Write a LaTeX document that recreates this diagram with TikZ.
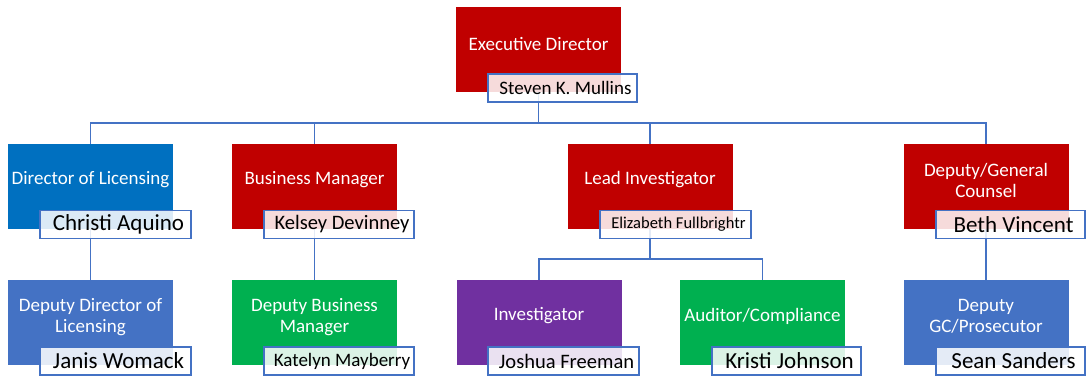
\documentclass[tikz,border=0pt]{standalone}
\usepackage{fontspec}
\setmainfont{Carlito}
\usetikzlibrary{backgrounds}
\definecolor{cred}{HTML}{C00000}
\definecolor{cblue}{HTML}{0070C0}
\definecolor{cblueb}{HTML}{4472C4}
\definecolor{cgreen}{HTML}{00B050}
\definecolor{cpurple}{HTML}{7030A0}
\definecolor{clink}{HTML}{4472C4}
\begin{document}
\begin{tikzpicture}[x=0.75pt,y=-0.75pt,
  role/.style={fill=#1, draw=none, minimum width=123.75pt, minimum height=63.75pt, inner sep=0pt, outer sep=0pt},
  rtext/.style={text=white, font=\fontsize{14.25}{15.75}\selectfont, align=center, inner sep=0pt},
  namebox/.style={draw=cblueb, line width=1pt, fill=white, fill opacity=0.86, text opacity=1, text=black, minimum height=21pt, inner sep=0pt, outer sep=0pt},
  nbig/.style={font=\fontsize{17.25}{18}\selectfont},
  nmid/.style={font=\fontsize{15.4}{17}\selectfont},
  nsmall/.style={font=\fontsize{14.25}{16}\selectfont},
  ntiny/.style={font=\fontsize{12.4}{14}\selectfont},
  link/.style={draw=clink, line width=1pt}]
\useasboundingbox (0,0) rectangle (1086,376);

% level 1
\node[role=cred] (exec) at (538.5,49.5) {};
\node[rtext] (execT) at ([yshift=4.5pt]exec.center) {Executive Director};
\node[namebox, nsmall, minimum width=111.75pt] (execN) at (562.5,88) {\hspace*{4.5pt}Steven K. Mullins};

% level 2
\node[role=cblue] (dl) at (90.5,186.5) {};
\node[rtext] (dlT) at ([yshift=5pt]dl.center) {Director of Licensing};
\node[namebox, nbig, minimum width=113.25pt] (dlN) at (115.5,224.5) {\hspace*{4.5pt}Christi Aquino};

\node[role=cred] (bm) at (314.5,186.5) {};
\node[rtext] (bmT) at ([yshift=5pt]bm.center) {Business Manager};
\node[namebox, nmid, minimum width=112.5pt] (bmN) at (339,224.5) {\hspace*{4.5pt}Kelsey Devinney};

\node[role=cred] (li) at (650,186.5) {};
\node[rtext] (liT) at ([yshift=5pt]li.center) {Lead Investigator};
\node[namebox, ntiny, minimum width=113.25pt] (liN) at (675.5,224.5) {\hspace*{4.5pt}Elizabeth Fullbrightr};

\node[role=cred] (gc) at (986,186.5) {};
\node[rtext] (gcT) at ([yshift=4.5pt]gc.center) {Deputy/General\\Counsel};
\node[namebox, nbig, minimum width=111.75pt] (gcN) at (1010.5,224.5) {\hspace*{4.5pt}Beth Vincent};

% level 3
\node[role=cblueb] (ddl) at (90.5,322) {};
\node[rtext] (ddlT) at ([yshift=4pt]ddl.center) {Deputy Director of\\Licensing};
\node[namebox, nbig, minimum width=113.25pt] (ddlN) at (115.5,361) {\hspace*{4.5pt}Janis Womack};

\node[role=cgreen] (dbm) at (314.5,322) {};
\node[rtext] (dbmT) at ([yshift=4pt]dbm.center) {Deputy Business\\Manager};
\node[namebox, nsmall, minimum width=112.5pt] (dbmN) at (339,361) {\hspace*{4.5pt}Katelyn Mayberry};

\node[role=cpurple] (inv) at (539,322) {};
\node[rtext] (invT) at ([yshift=4.5pt]inv.center) {Investigator};
\node[namebox, nmid, minimum width=113.25pt] (invN) at (563.5,361) {\hspace*{4.5pt}Joshua Freeman};

\node[role=cgreen] (aud) at (762.5,322) {};
\node[rtext] (audT) at ([yshift=4.5pt]aud.center) {Auditor/Compliance};
\node[namebox, nbig, minimum width=111.75pt] (audN) at (786.5,361) {\hspace*{4.5pt}Kristi Johnson};

\node[role=cblueb] (dgc) at (986,322) {};
\node[rtext] (dgcT) at ([yshift=4pt]dgc.center) {Deputy\\GC/Prosecutor};
\node[namebox, nbig, minimum width=111.75pt] (dgcN) at (1010.5,361) {\hspace*{4.5pt}Sean Sanders};

% connectors
\begin{scope}[on background layer]
\fill[white] (0,0) rectangle (1086,376);
\coordinate (bus) at (0,123);
\coordinate (bus2) at (0,259);
\draw[link] (exec.center) -- (exec.center |- bus) -| (dl.center);
\draw[link] (exec.center) -- (exec.center |- bus) -| (bm.center);
\draw[link] (exec.center) -- (exec.center |- bus) -| (li.center);
\draw[link] (exec.center) -- (exec.center |- bus) -| (gc.center);
\draw[link] (dl.center) -- (ddl.center);
\draw[link] (bm.center) -- (dbm.center);
\draw[link] (gc.center) -- (dgc.center);
\draw[link] (li.center) -- (li.center |- bus2) -| (inv.center);
\draw[link] (li.center) -- (li.center |- bus2) -| (aud.center);
\end{scope}
\end{tikzpicture}
\end{document}
